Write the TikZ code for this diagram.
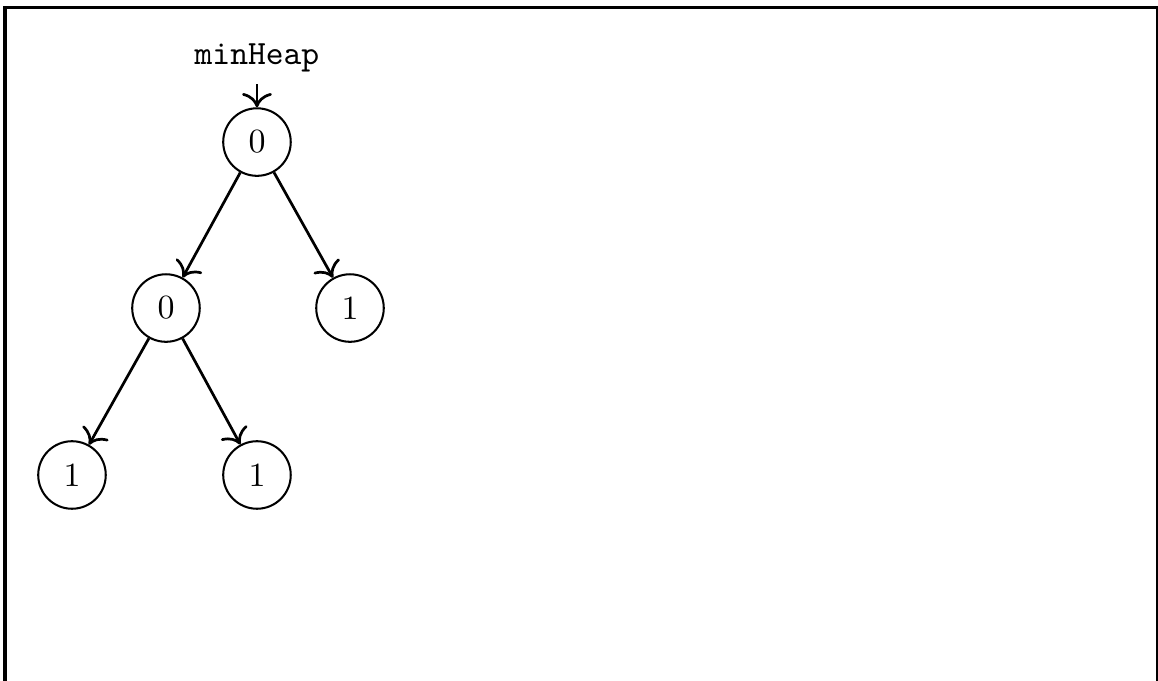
\documentclass[tikz,border=0pt]{standalone}
\usepackage{tikz}
\usetikzlibrary{arrows,arrows.meta,positioning}

\begin{document}
\begin{tikzpicture}[heapnode/.style={circle,draw,semithick,minimum size=0.7cm,inner sep=0pt},
	heapedge/.style={-{To[scale=1.25]},thick}]

	\useasboundingbox (0,0) rectangle (12,-7.047);
	\draw [line width=0.9pt] (0.052,-7.2) -- (0.052,-0.073) -- (11.99,-0.073) -- (11.99,-7.2);

	\node (L) at (2.663,-0.601) {\texttt{minHeap}};

	\node [heapnode] (A) at (2.663,-1.472) {0};
	\node [heapnode] (B) at (1.720,-3.192) {0};
	\node [heapnode] (C) at (3.627,-3.192) {1};
	\node [heapnode] (D) at (0.746,-4.922) {1};
	\node [heapnode] (E) at (2.663,-4.922) {1};

	\draw [heapedge] (L) -- (A);
	\draw [heapedge] (A) -- (B);
	\draw [heapedge] (A) -- (C);
	\draw [heapedge] (B) -- (D);
	\draw [heapedge] (B) -- (E);

\end{tikzpicture}
\end{document}
